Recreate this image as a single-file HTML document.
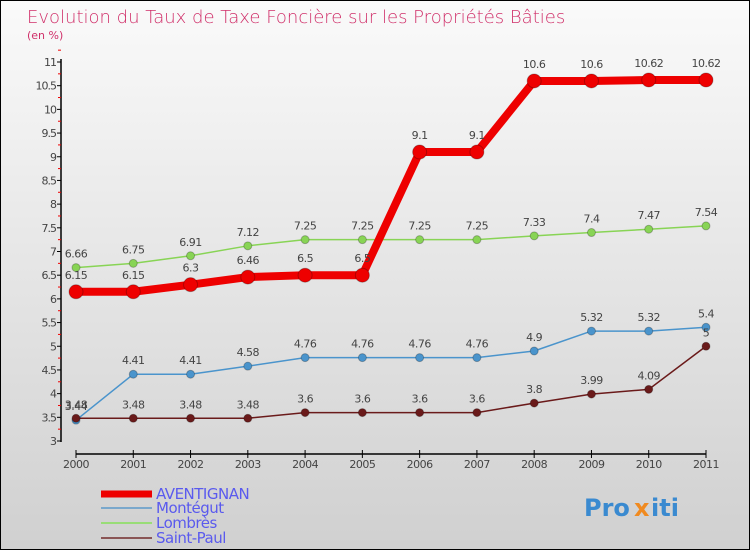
<!DOCTYPE html>
<html><head><meta charset="utf-8"><style>
body{margin:0}
#c{position:relative;width:750px;height:550px;overflow:hidden;box-sizing:border-box;border:1px solid #000;background:linear-gradient(#fafafa,#d0d0d0);font-family:"DejaVu Sans","Liberation Sans",sans-serif}
</style></head><body>
<div id="c">
<svg id="s" width="750" height="550" style="position:absolute;left:0;top:0">
<text x="26" y="22" font-size="18" fill="#d0306a" style="font-family:'DejaVu Sans',sans-serif;font-weight:200">Evolution du Taux de Taxe Foncière sur les Propriétés Bâties</text>
<text x="26" y="38" font-size="11" fill="#d0306a">(en %)</text>
</svg>
</div>
<script>
const years=["2000","2001","2002","2003","2004","2005","2006","2007","2008","2009","2010","2011"];
const aventignan=[6.15,6.15,6.3,6.46,6.5,6.5,9.1,9.1,10.6,10.6,10.62,10.62];
const montegut=[3.44,4.41,4.41,4.58,4.76,4.76,4.76,4.76,4.9,5.32,5.32,5.4];
const lombres=[6.66,6.75,6.91,7.12,7.25,7.25,7.25,7.25,7.33,7.4,7.47,7.54];
const saintPaul=[3.48,3.48,3.48,3.48,3.6,3.6,3.6,3.6,3.8,3.99,4.09,5];
const yTicks=[3,3.5,4,4.5,5,5.5,6,6.5,7,7.5,8,8.5,9,9.5,10,10.5,11];
const NS="http://www.w3.org/2000/svg";
const s=document.getElementById('s');
const X=i=>75+i*(630/(years.length-1));
const Y=v=>440-(v-3)*(379/8);
function el(t,a,txt){const e=document.createElementNS(NS,t);for(const k in a)e.setAttribute(k,a[k]);if(txt!==undefined)e.textContent=txt;s.appendChild(e);return e;}
let e=el('line',{x1:60,y1:58,x2:60,y2:441,stroke:'#000','stroke-width':1.5});


yTicks.forEach(v=>{
 el('line',{x1:56,y1:Y(v),x2:60,y2:Y(v),stroke:'#000'});
 el('line',{x1:57,y1:Y(v+0.25),x2:60,y2:Y(v+0.25),stroke:'#e00'});
 const t=el('text',{x:55,y:Y(v)+4,'font-size':11,fill:'#444','text-anchor':'end','letter-spacing':'-1'},String(v));
 
 
});
e=el('line',{x1:75,y1:453,x2:705,y2:453,stroke:'#000','stroke-width':1.5});


years.forEach((y,i)=>{
 el('line',{x1:X(i),y1:449,x2:X(i),y2:457,stroke:'#000'});
 const t=el('text',{x:X(i),y:467,'font-size':11,fill:'#444','text-anchor':'middle','letter-spacing':'-0.5'},y);
 
 
});
function series(data,color,w,r,name){
 const p=el('polyline',{points:data.map((v,i)=>X(i)+','+Y(v)).join(' '),fill:'none',stroke:color,'stroke-width':w,'stroke-linejoin':'round'});
 
 
 data.forEach((v,i)=>{
  const c=el('circle',{cx:X(i),cy:Y(v),r:r,fill:color,stroke:'rgba(0,0,0,0.25)'});
  
  
  const t=el('text',{x:X(i),y:Y(v)-(r+6),'font-size':11,fill:'#444','text-anchor':'middle','letter-spacing':'-0.5'},String(v));
  
  
 });
}
series(lombres,'#88d455',1.5,4,'lombres');
series(montegut,'#4a94cc',1.5,4,'montegut');
series(saintPaul,'#6a1a1a',1.5,4,'saint-paul');
series(aventignan,'#ee0000',8,7,'aventignan');
const leg=[["AVENTIGNAN","#ee0000",7],["Montégut","#7aa8cc",2],["Lombrès","#99dd77",2],["Saint-Paul","#8a5555",2]];
const ly=[493,507,522,537];
leg.forEach((l,i)=>{
 el('line',{x1:100,y1:ly[i],x2:151,y2:ly[i],stroke:l[1],'stroke-width':l[2]});
 const t=el('text',{x:155,y:ly[i]+5,'font-size':15,fill:'#5a5aee','letter-spacing':'-0.5'},l[0]);
 
 
});
const pt=el('text',{x:583,y:515,'font-size':24,'font-weight':'bold',fill:'#3a8ad0'},'Pro');


el('text',{x:633,y:515,'font-size':24,'font-weight':'bold',fill:'#f08a20'},'x');
el('text',{x:650,y:515,'font-size':24,'font-weight':'bold',fill:'#3a8ad0'},'iti');
</script>
</body></html>
